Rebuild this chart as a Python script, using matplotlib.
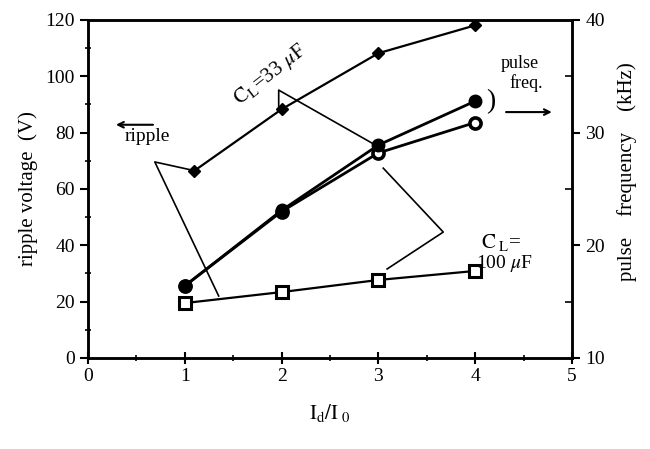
import matplotlib.pyplot as plt
from matplotlib.ticker import MultipleLocator

plt.rcParams['font.family'] = ['Liberation Serif', 'DejaVu Serif']
plt.rcParams['mathtext.fontset'] = 'stix'

# ripple voltage (left axis, V)
x_rip33 = [1.1, 2.0, 3.0, 4.0]
rip33 = [66.5, 88.3, 108.2, 118.1]
x_rip100 = [1.0, 2.0, 3.0, 4.0]
rip100 = [19.5, 23.4, 27.7, 30.9]

# pulse frequency (right axis, kHz)
x_freq = [1.0, 2.0, 3.0, 4.0]
freq33 = [16.4, 23.1, 28.9, 32.8]
freq100 = [16.4, 23.0, 28.2, 30.9]

fig = plt.figure(figsize=(6.5, 4.49), dpi=100)
ax = fig.add_axes([0.1354, 0.2027, 0.7446, 0.7528])
ax2 = ax.twinx()

ax.plot(x_rip33, rip33, color='black', lw=1.6, marker='D', ms=6, zorder=3)
ax.plot(x_rip100, rip100, color='black', lw=1.6, marker='s', ms=8,
        mfc='white', mec='black', mew=2.2, zorder=3)
ax2.plot(x_freq, freq100, color='black', lw=2.0, marker='o', ms=8,
         mfc='white', mec='black', mew=2.6, zorder=3)
ax2.plot(x_freq, freq33, color='black', lw=2.0, marker='o', ms=9, zorder=4)

ax.set_xlim(0, 5)
ax.set_ylim(0, 120)
ax2.set_ylim(10, 40)

ax.xaxis.set_major_locator(MultipleLocator(1))
ax.xaxis.set_minor_locator(MultipleLocator(0.5))
ax.yaxis.set_major_locator(MultipleLocator(20))
ax.yaxis.set_minor_locator(MultipleLocator(10))
ax2.yaxis.set_major_locator(MultipleLocator(10))
ax2.yaxis.set_minor_locator(MultipleLocator(5))

ax.tick_params(axis='x', which='major', direction='inout', length=8, width=1.5, labelsize=14)
ax.tick_params(axis='x', which='minor', direction='inout', length=5, width=1.2)
ax.tick_params(axis='y', which='major', direction='out', length=6, width=1.5, labelsize=14)
ax.tick_params(axis='y', which='minor', direction='inout', length=5, width=1.2)
ax2.tick_params(axis='y', which='major', direction='out', length=6, width=1.5, labelsize=14)
ax2.tick_params(axis='y', which='minor', direction='in', length=5, width=1.2)
for a in (ax, ax2):
    for s in a.spines.values():
        s.set_linewidth(1.8)

ax.set_xlabel(r'$\mathrm{I_d/I_{\ 0}}$', fontsize=15, labelpad=12)
ax.set_ylabel('ripple voltage  (V)', fontsize=15, labelpad=5)
ax2.set_ylabel('pulse    frequency    (kHz)', fontsize=15)
ax2.yaxis.set_label_coords(1.093, 0.55)

# annotations
ax.text(1.88, 100.5, r'$\mathrm{C_L}$=33 $\mu$F', fontsize=15, rotation=38,
        ha='center', va='center')
ax.text(0.38, 78.5, 'ripple', fontsize=14, ha='left', va='center')
ax.annotate('', xy=(0.26, 82.8), xytext=(0.7, 82.8),
            arrowprops=dict(arrowstyle='->', lw=1.5, color='black'))
ax.text(4.46, 104.5, 'pulse', fontsize=13, ha='center', va='center')
ax.text(4.53, 97.5, 'freq.', fontsize=13, ha='center', va='center')
ax.annotate('', xy=(4.82, 87.3), xytext=(4.29, 87.3),
            arrowprops=dict(arrowstyle='->', lw=1.5, color='black'))
ax.text(4.16, 91, ')', fontsize=20, ha='center', va='center')
ax.text(4.27, 41, r'$\mathrm{C_{\ L}}$=', fontsize=15, ha='center', va='center')
ax.text(4.3, 33.5, r'100 $\mu$F', fontsize=14, ha='center', va='center')

# leader lines (left-axis data coordinates)
ax.plot([1.1, 0.69, 1.35], [66.5, 69.6, 22], color='black', lw=1.2)
ax.plot([1.97, 1.97, 3.0], [88.3, 95.1, 75.0], color='black', lw=1.2)
ax.plot([3.05, 3.67, 3.09], [67.4, 44.7, 31.6], color='black', lw=1.2)

fig.savefig('out.png', dpi=100)
